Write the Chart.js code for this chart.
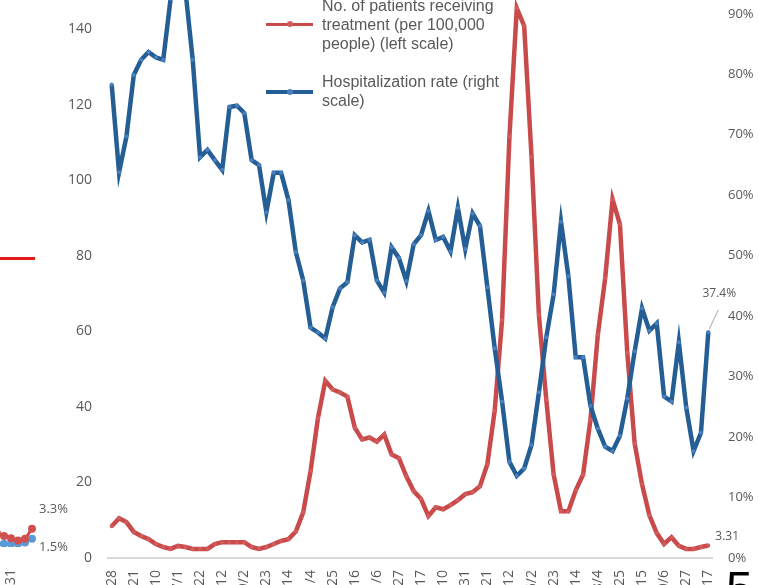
<!DOCTYPE html>
<html>
<head>
<meta charset="utf-8">
<script src="https://cdn.jsdelivr.net/npm/chart.js@4.4.1/dist/chart.umd.min.js"></script>
<style>
  html, body { margin: 0; padding: 0; background: #fff; width: 759px; height: 585px; overflow: hidden; }
  body { position: relative; font-family: "Liberation Sans", Arial, sans-serif; }
  #main { position: absolute; left: 0; top: -71px; }
  #side { position: absolute; left: -100px; top: 200px; }
  .swatch { position: absolute; left: 266px; width: 47px; height: 3.5px; }
  .swatch i { position: absolute; left: 21px; top: -1.5px; width: 6px; height: 6px; border-radius: 50%; }
  .ltext { position: absolute; left: 322px; color: #595959; font-size: 16px; line-height: 19px; white-space: nowrap; }
  #redmark { position: absolute; left: 0; top: 257px; width: 35px; height: 2.5px; background: #e31a1c; }
  #page { position: absolute; left: 726px; top: 565px; font-size: 48px; line-height: 1; color: #000; }
</style>
</head>
<body>
<canvas id="side" width="180" height="400"></canvas>
<canvas id="main" width="759" height="711"></canvas>

<div class="swatch" style="top:22.5px;background:#c94a4a"><i style="background:#d25c5c"></i></div>
<div class="ltext" style="top:-4px">No. of patients receiving<br>treatment (per 100,000<br>people) (left scale)</div>
<div class="swatch" style="top:90px;background:#255e94"><i style="background:#4a80c0"></i></div>
<div class="ltext" style="top:72px">Hospitalization rate (right<br>scale)</div>

<div id="redmark"></div>
<div id="page">5</div>

<script>
// tick dates, one every 3rd data point
const tickDates = [
  "2020/4/28", "2020/5/21", "2020/6/10", "2020/7/1", "2020/7/22", "2020/8/12", "2020/9/2",
  "2020/9/23", "2020/10/14", "2020/11/4", "2020/11/25", "2020/12/16", "2021/1/6", "2021/1/27",
  "2021/2/17", "2021/3/10", "2021/3/31", "2021/4/21", "2021/5/12", "2021/6/2", "2021/6/23",
  "2021/7/14", "2021/8/4", "2021/8/25", "2021/9/15", "2021/10/6", "2021/10/27", "2021/11/17"
];

// patients receiving treatment per 100,000 (left scale)
const patients = [
  8.4, 10.5, 9.5, 6.9, 5.8, 5.0, 3.7, 2.9, 2.4, 3.2,
  2.9, 2.4, 2.4, 2.4, 3.7, 4.2, 4.2, 4.2, 4.2, 2.9,
  2.4, 2.9, 3.7, 4.5, 5.0, 7.0, 12.1, 23.0, 37.0, 46.9,
  44.6, 43.8, 42.7, 34.5, 31.4, 31.9, 30.8, 32.7, 27.4, 26.4,
  21.6, 17.7, 15.6, 11.1, 13.4, 12.9, 14.0, 15.3, 16.9, 17.4,
  19.0, 24.8, 39.0, 63.0, 111.5, 145.5, 140.8, 106.2, 64.3, 41.9,
  22.1, 12.4, 12.4, 17.9, 22.1, 36.6, 59.1, 74.1, 94.9, 88.3,
  54.3, 30.3, 19.5, 11.3, 6.6, 3.7, 5.5, 3.2, 2.4, 2.4,
  2.9, 3.31
];

// hospitalization rate % (right scale)
const hospRate = [
  78.3, 63.8, 69.7, 79.9, 82.4, 83.7, 82.8, 82.4, 92.5, 97.5,
  94.0, 82.4, 66.3, 67.5, 65.8, 64.2, 74.6, 74.8, 73.6, 65.8,
  65.0, 57.2, 63.7, 63.7, 59.2, 50.6, 45.9, 38.1, 37.3, 36.3,
  41.5, 44.6, 45.6, 53.4, 52.2, 52.6, 45.9, 43.9, 51.4, 49.6,
  45.8, 51.9, 53.4, 57.4, 52.6, 53.1, 50.7, 57.9, 51.1, 57.0,
  54.9, 44.8, 34.7, 25.9, 15.9, 13.6, 14.8, 18.7, 27.4, 36.5,
  43.6, 55.6, 46.6, 33.2, 33.2, 25.2, 21.4, 18.4, 17.7, 20.2,
  26.4, 34.2, 41.3, 37.6, 38.8, 26.7, 25.9, 35.7, 24.9, 17.7,
  20.7, 37.4
];

// tail of the neighbouring chart on the left edge
const sideDates = ["2021/8/3", "2021/8/10", "2021/8/17", "2021/8/24", "2021/8/31", "2021/9/7", "2021/9/14", "2021/9/21"];
const sideRed = [3.2, 2.8, 2.5, 2.0, 1.6, 1.2, 1.5, 3.3];
const sideBlue = [0.6, 0.6, 0.6, 0.6, 0.6, 0.6, 0.8, 1.5];

const RED = "#c94a4a";
const BLUE = "#255e94";
const GREY = "#595959";

Chart.defaults.font.family = "'Open Sans', sans-serif";
Chart.defaults.color = GREY;

const labels = patients.map((v, i) => (i % 3 === 0 ? tickDates[i / 3] : ""));

const endLabels = {
  id: "endLabels",
  afterDatasetsDraw(chart) {
    const ctx = chart.ctx;
    const r = chart.getDatasetMeta(0).data[patients.length - 1];
    const b = chart.getDatasetMeta(1).data[hospRate.length - 1];
    ctx.save();
    ctx.font = "12px 'Open Sans'";
    ctx.fillStyle = GREY;
    ctx.textBaseline = "middle";
    ctx.textAlign = "left";
    ctx.fillText(patients[patients.length - 1].toFixed(2), r.x + 7, r.y - 9);
    ctx.strokeStyle = "#a6a6a6";
    ctx.lineWidth = 1;
    ctx.beginPath();
    ctx.moveTo(b.x + 1, b.y - 3);
    ctx.lineTo(b.x + 10, b.y - 22);
    ctx.stroke();
    ctx.textAlign = "center";
    ctx.fillText(hospRate[hospRate.length - 1].toFixed(1) + "%", b.x + 11, b.y - 38);
    ctx.restore();
  }
};

new Chart(document.getElementById("main"), {
  type: "line",
  data: {
    labels: labels,
    datasets: [
      {
        label: "No. of patients receiving treatment (per 100,000 people) (left scale)",
        data: patients,
        yAxisID: "y",
        borderColor: RED,
        backgroundColor: "#d25c5c",
        borderWidth: 4.5,
        pointRadius: 2,
        pointBorderWidth: 0,
        tension: 0,
        order: 2
      },
      {
        label: "Hospitalization rate (right scale)",
        data: hospRate,
        yAxisID: "y1",
        borderColor: BLUE,
        backgroundColor: "#4a80c0",
        borderWidth: 4.5,
        pointRadius: 2,
        pointBorderWidth: 0,
        tension: 0,
        order: 1
      }
    ]
  },
  options: {
    responsive: false,
    animation: false,
    devicePixelRatio: 1,
    layout: { padding: { top: 2, left: 0, right: 0, bottom: 0 } },
    plugins: { legend: { display: false }, tooltip: { enabled: false } },
    scales: {
      x: {
        offset: true,
        grid: { display: false, drawTicks: false },
        border: { display: true, color: "#d9d9d9", width: 2 },
        ticks: { autoSkip: false, minRotation: 90, maxRotation: 90, padding: 12, font: { size: 14 } },
        afterFit: s => { s.height = 82; }
      },
      y: {
        position: "left",
        min: 0,
        max: 160,
        grid: { display: false, drawTicks: false },
        border: { display: false },
        ticks: { stepSize: 20, padding: 16, font: { size: 14 } },
        afterFit: s => { s.width = 108; }
      },
      y1: {
        position: "right",
        min: 0,
        max: 100,
        grid: { display: false, drawTicks: false },
        border: { display: false },
        ticks: { stepSize: 10, padding: 16, font: { size: 13 }, callback: v => v + "%" },
        afterFit: s => { s.width = 47; }
      }
    }
  },
  plugins: [endLabels]
});

const sideLabels = {
  id: "sideLabels",
  afterDatasetsDraw(chart) {
    const ctx = chart.ctx;
    const r = chart.getDatasetMeta(0).data[sideRed.length - 1];
    const b = chart.getDatasetMeta(1).data[sideBlue.length - 1];
    ctx.save();
    ctx.font = "13px 'Open Sans'";
    ctx.fillStyle = GREY;
    ctx.textBaseline = "middle";
    ctx.textAlign = "left";
    ctx.fillText(sideRed[sideRed.length - 1].toFixed(1) + "%", r.x + 7, r.y - 20);
    ctx.fillText(sideBlue[sideBlue.length - 1].toFixed(1) + "%", b.x + 7, b.y + 9);
    ctx.restore();
  }
};

new Chart(document.getElementById("side"), {
  type: "line",
  data: {
    labels: sideDates,
    datasets: [
      {
        data: sideRed,
        borderColor: RED,
        backgroundColor: "#d0504f",
        borderWidth: 3,
        pointRadius: 4,
        pointBorderWidth: 0,
        tension: 0
      },
      {
        data: sideBlue,
        borderColor: "#3d7cc4",
        backgroundColor: "#5b9bd5",
        borderWidth: 3,
        pointRadius: 4,
        pointBorderWidth: 0,
        tension: 0
      }
    ]
  },
  options: {
    responsive: false,
    animation: false,
    devicePixelRatio: 1,
    layout: { padding: { top: 237, left: 83, right: 48, bottom: 0 } },
    plugins: { legend: { display: false }, tooltip: { enabled: false } },
    scales: {
      x: {
        offset: false,
        grid: { display: false, drawTicks: false },
        border: { display: false },
        ticks: {
          autoSkip: false, minRotation: 90, maxRotation: 90, padding: 22, font: { size: 14 },
          callback: function (v, i) { return i % 4 === 0 ? this.getLabelForValue(v) : ""; }
        },
        afterFit: s => { s.height = 53; }
      },
      y: { display: false, min: 0, max: 20 }
    }
  },
  plugins: [sideLabels]
});
</script>
</body>
</html>
